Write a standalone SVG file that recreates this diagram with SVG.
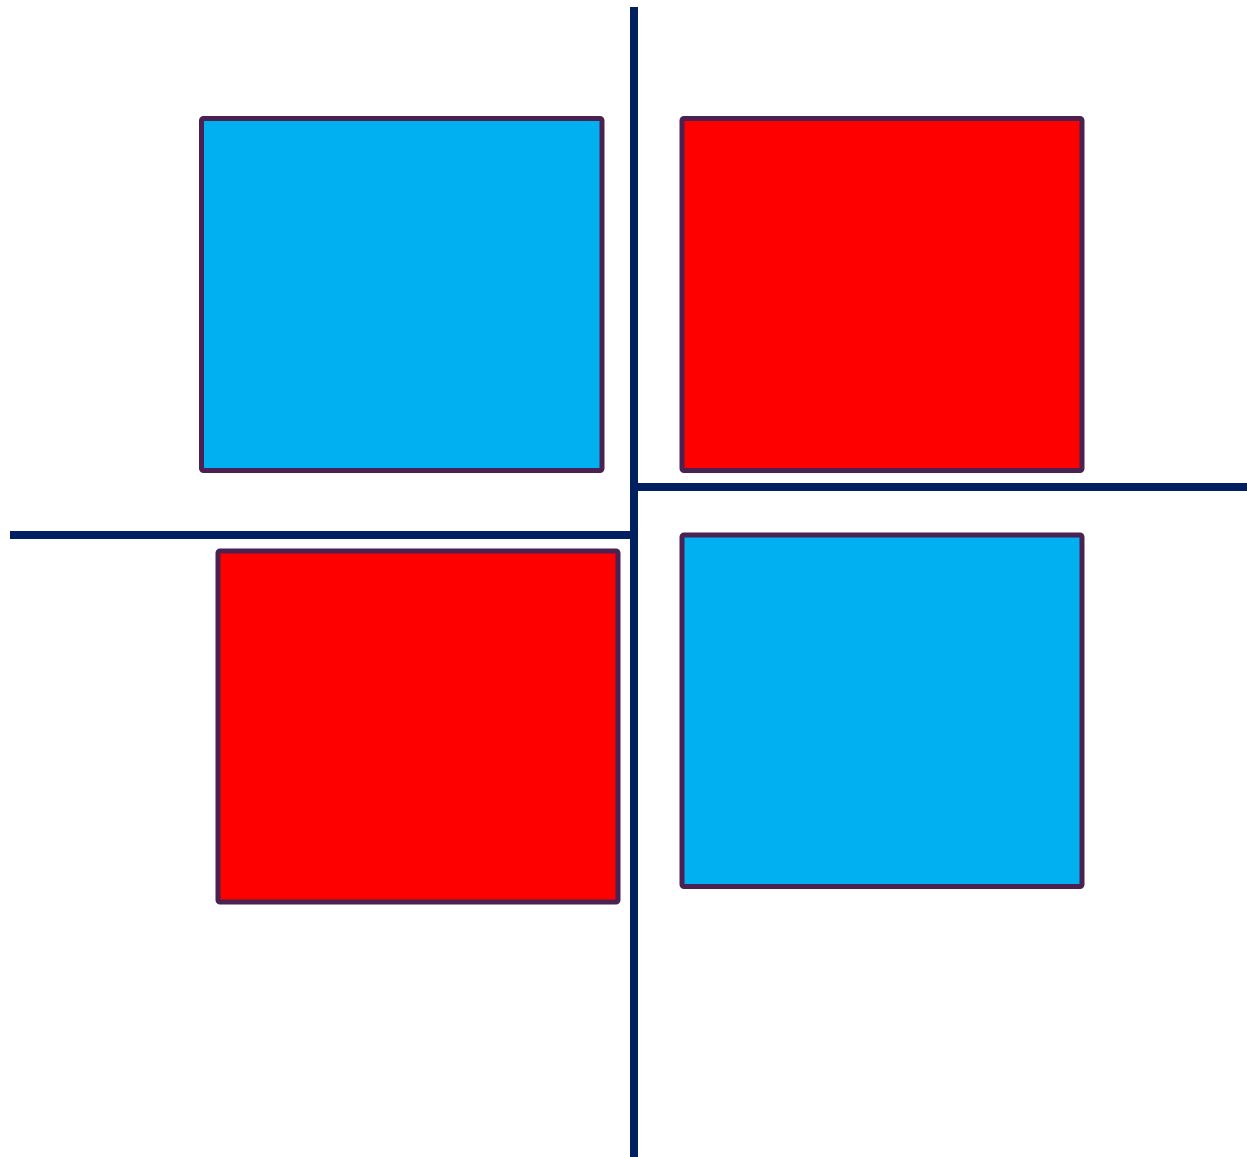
<svg xmlns="http://www.w3.org/2000/svg" width="1247" height="1157" viewBox="0 0 1247 1157">
<style>
.box{stroke:#4B2151;stroke-width:5;stroke-linejoin:round}
.blue{fill:#00B0F0}
.red{fill:#FF0000}
.ln{stroke:#002060;stroke-width:8;fill:none}
</style>
<rect width="1247" height="1157" fill="#FFFFFF"/>
<g id="connectors">
<line class="ln" x1="634" y1="7" x2="634" y2="1157"/>
<line class="ln" x1="638" y1="487" x2="1247" y2="487"/>
<line class="ln" x1="10" y1="535" x2="630" y2="535"/>
</g>
<g id="node-top-left"><rect class="box blue" x="201.5" y="118.5" width="400.5" height="352" rx="2"/></g>
<g id="node-top-right"><rect class="box red" x="682" y="118.5" width="400" height="352" rx="2"/></g>
<g id="node-bottom-left"><rect class="box red" x="218" y="551" width="400" height="351" rx="2"/></g>
<g id="node-bottom-right"><rect class="box blue" x="682" y="535" width="400" height="351.5" rx="2"/></g>
</svg>
